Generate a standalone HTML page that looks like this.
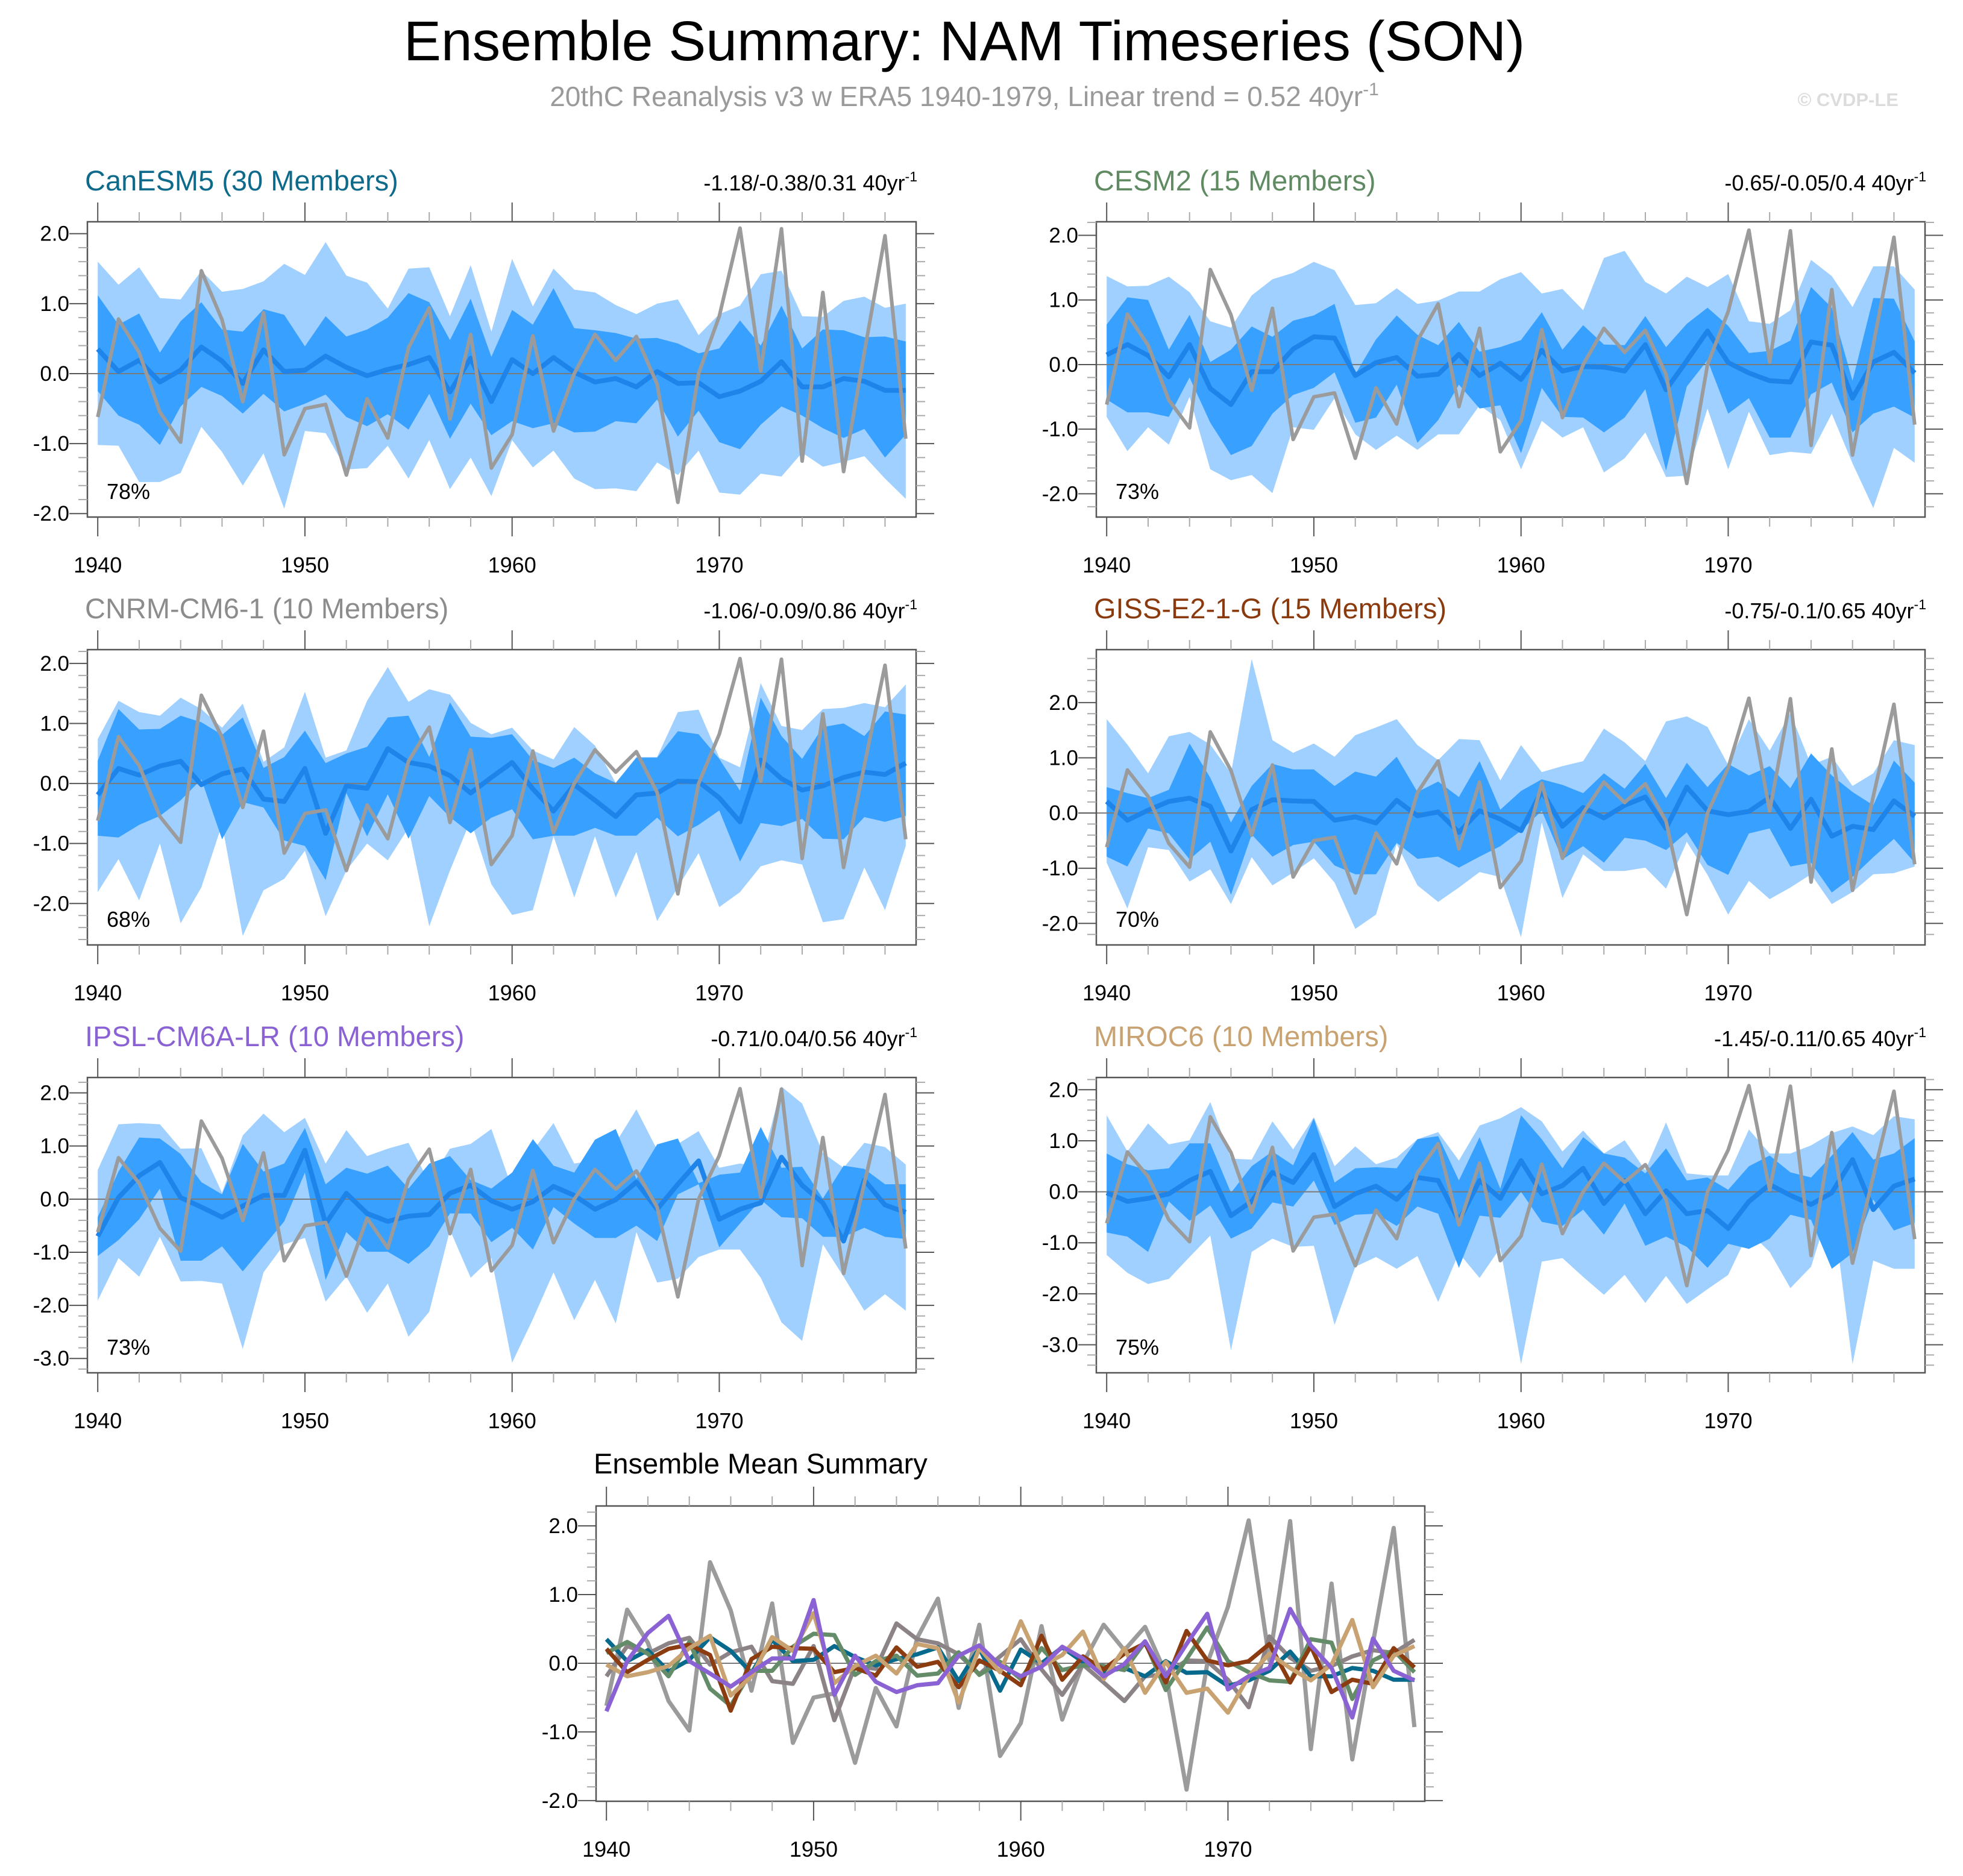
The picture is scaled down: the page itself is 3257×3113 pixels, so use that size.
<!DOCTYPE html>
<html><head><meta charset="utf-8">
<style>
html,body{margin:0;padding:0;background:#fff;}
svg{display:block;font-family:"Liberation Sans",Arial,sans-serif;}
</style></head>
<body>
<svg id="chart" width="3257" height="3113" viewBox="0 0 3257 3113" xmlns="http://www.w3.org/2000/svg">
<text x="1600" y="100" font-size="93" text-anchor="middle" fill="#000">Ensemble Summary: NAM Timeseries (SON)</text>
<text x="1600" y="176" font-size="46" text-anchor="middle" fill="#9a9a9a">20thC Reanalysis v3 w ERA5 1940-1979, Linear trend = 0.52 40yr<tspan dy="-18" font-size="30">-1</tspan></text>
<text x="3150" y="176" font-size="31" font-weight="bold" text-anchor="end" fill="#dcdcdc">© CVDP-LE</text>
</svg>
<script>
const years = [];
for (let y = 1940; y <= 1979; y++) years.push(y);
const obs = [-0.62,0.78,0.30,-0.55,-0.98,1.47,0.77,-0.40,0.87,-1.16,-0.50,-0.44,-1.45,-0.36,-0.92,0.37,0.94,-0.65,0.56,-1.35,-0.87,0.54,-0.82,0.00,0.56,0.19,0.53,-0.15,-1.84,0.00,0.82,2.08,0.04,2.07,-1.25,1.16,-1.40,0.30,1.97,-0.93];

const canMean = [0.35,0.03,0.19,-0.12,0.05,0.38,0.18,-0.14,0.34,0.03,0.05,0.25,0.09,-0.03,0.06,0.13,0.23,-0.26,0.22,-0.40,0.20,0.00,0.23,0.02,-0.12,-0.07,-0.19,0.03,-0.14,-0.13,-0.33,-0.25,-0.11,0.17,-0.19,-0.19,-0.07,-0.11,-0.24,-0.24];
const canDarkHi = [1.12,0.70,0.86,0.30,0.75,1.02,0.63,0.60,0.92,0.84,0.39,0.82,0.53,0.63,0.80,1.15,1.02,0.48,1.07,0.24,0.91,0.70,1.22,0.65,0.62,0.58,0.50,0.51,0.43,0.29,0.36,0.76,0.40,0.97,0.36,0.63,0.62,0.52,0.53,0.46];
const canDarkLo = [-0.25,-0.60,-0.73,-1.02,-0.47,-0.19,-0.32,-0.57,-0.29,-0.54,-0.43,-0.30,-0.62,-0.75,-0.58,-0.80,-0.29,-0.93,-0.43,-0.88,-0.68,-0.78,-0.71,-0.84,-0.83,-0.68,-0.71,-0.37,-0.90,-0.53,-0.98,-1.08,-0.73,-0.47,-0.60,-0.78,-0.92,-0.79,-1.20,-0.87];
const canLightHi = [1.60,1.27,1.52,1.08,1.06,1.47,1.17,1.21,1.32,1.57,1.41,1.88,1.40,1.30,0.93,1.50,1.52,0.82,1.55,0.60,1.64,0.96,1.50,1.20,1.16,0.98,0.85,1.00,1.06,0.55,0.85,0.97,1.42,1.47,0.82,0.81,1.04,1.10,0.94,1.00];
const canLightLo = [-1.02,-1.03,-1.55,-1.55,-1.42,-0.76,-1.12,-1.60,-1.14,-1.93,-0.82,-0.85,-1.37,-1.35,-1.03,-1.50,-0.95,-1.65,-1.20,-1.75,-0.95,-1.34,-1.10,-1.50,-1.65,-1.64,-1.68,-1.27,-1.45,-1.10,-1.70,-1.73,-1.43,-1.47,-1.13,-1.33,-1.26,-1.18,-1.50,-1.79];

const cesmMean = [0.15,0.31,0.14,-0.19,0.31,-0.37,-0.62,-0.11,-0.11,0.24,0.43,0.41,-0.17,0.03,0.11,-0.18,-0.15,0.16,-0.17,0.02,-0.23,0.22,-0.10,-0.03,-0.04,-0.10,0.31,-0.39,0.06,0.52,0.03,-0.13,-0.25,-0.27,0.35,0.30,-0.52,0.04,0.19,-0.13];
const cesmDarkHi = [0.62,1.04,1.00,0.23,0.77,0.04,0.23,0.59,0.43,0.68,0.76,0.94,-0.15,0.39,0.76,0.46,0.30,0.66,0.20,0.27,0.38,0.81,0.23,0.61,0.31,0.30,0.75,0.27,0.63,0.88,0.60,0.18,0.21,0.37,1.20,0.88,-0.25,1.03,1.02,0.36];
const cesmDarkLo = [-0.54,-0.74,-0.74,-0.81,-0.20,-0.90,-1.40,-1.26,-0.76,-0.47,-0.36,-0.12,-0.90,-0.82,-0.31,-1.21,-0.86,-0.31,-0.68,-0.63,-1.37,-0.36,-0.81,-0.82,-1.05,-0.82,-0.38,-1.64,-0.34,0.07,-0.76,-0.52,-1.13,-1.13,-0.46,-0.28,-1.05,-0.76,-0.65,-0.82];
const cesmLightHi = [1.37,1.21,1.22,1.36,1.12,0.67,0.57,1.07,1.32,1.42,1.59,1.46,0.92,0.95,1.18,0.94,0.99,1.13,1.13,1.32,1.43,1.10,1.17,0.84,1.65,1.76,1.28,1.10,1.36,1.20,1.40,0.67,0.63,0.84,1.62,1.37,0.89,1.52,1.52,1.16];
const cesmLightLo = [-0.81,-1.34,-0.97,-1.24,-0.50,-1.62,-1.79,-1.71,-1.99,-0.97,-1.01,-0.52,-1.08,-1.32,-1.10,-1.32,-1.08,-1.08,-0.63,-0.86,-1.62,-0.87,-1.13,-0.97,-1.67,-1.45,-1.05,-1.74,-1.72,-0.68,-1.62,-0.73,-1.40,-1.35,-1.38,-0.76,-1.53,-2.22,-1.29,-1.52];

const cnrmMean = [-0.19,0.25,0.14,0.29,0.37,-0.02,0.16,0.24,-0.26,-0.30,0.25,-0.83,-0.04,-0.08,0.58,0.35,0.29,0.13,-0.16,0.10,0.35,-0.09,-0.46,-0.02,-0.28,-0.55,-0.19,-0.16,0.04,0.03,-0.24,-0.64,0.39,0.08,-0.11,-0.04,0.10,0.19,0.15,0.34];
const cnrmDarkHi = [0.38,1.24,0.90,0.91,1.13,1.02,0.81,1.10,0.26,0.44,0.88,0.34,0.50,0.61,1.10,1.13,0.44,1.35,0.78,0.76,0.82,0.39,0.26,0.43,0.17,0.01,0.43,0.43,0.87,0.82,0.41,-0.12,1.43,0.79,0.41,0.94,1.00,0.79,1.20,1.15];
const cnrmDarkLo = [-0.87,-0.90,-0.69,-0.54,-0.28,0.07,-0.93,-0.31,-0.40,-0.95,-1.04,-1.61,-0.16,-0.88,-0.18,-0.92,-0.21,-0.56,-0.83,-0.57,-0.43,-0.93,-0.87,-0.87,-0.74,-0.87,-0.87,-0.57,-0.88,-0.69,-0.45,-1.30,-0.66,-0.71,-0.59,-0.92,-0.93,-0.56,-0.64,-0.54];
const cnrmLightHi = [0.74,1.38,1.19,1.13,1.43,1.24,0.93,1.33,0.36,0.60,1.53,0.43,0.55,1.38,1.94,1.36,1.57,1.48,1.01,0.82,0.93,0.55,0.40,0.94,0.63,0.01,0.44,0.44,1.19,1.23,0.43,0.27,1.67,0.96,0.89,1.24,1.26,1.34,1.27,1.65];
const cnrmLightLo = [-1.81,-1.26,-1.95,-1.00,-2.33,-1.73,-0.68,-2.54,-1.78,-1.59,-1.12,-2.21,-1.45,-1.00,-1.28,-0.74,-2.38,-1.45,-0.61,-1.68,-2.19,-2.11,-0.88,-1.90,-0.88,-1.90,-1.14,-2.29,-1.73,-1.16,-2.06,-1.81,-1.38,-1.28,-1.35,-2.31,-2.26,-1.40,-2.11,-1.04];

const gissMean = [0.21,-0.13,0.05,0.21,0.27,0.12,-0.69,0.06,0.24,0.22,0.21,-0.13,-0.07,-0.18,0.23,-0.05,0.02,-0.35,0.04,-0.11,-0.32,0.40,-0.24,0.10,-0.09,0.14,0.29,-0.28,0.47,0.04,-0.03,0.03,0.28,-0.28,0.25,-0.42,-0.24,-0.30,0.22,-0.06];
const gissDarkHi = [0.47,0.36,0.27,0.42,1.26,0.64,-0.17,0.49,0.89,0.79,0.79,0.49,0.75,0.66,1.02,0.38,0.57,0.29,0.94,0.06,0.40,0.61,0.51,0.36,0.72,0.44,0.89,0.27,0.91,0.47,0.89,0.68,0.85,0.45,1.08,0.68,0.38,0.14,0.95,0.55];
const gissDarkLo = [-0.79,-0.97,-0.28,-0.37,-0.84,-0.52,-1.48,-0.39,-0.79,-0.58,-0.52,-0.95,-1.11,-1.11,-0.54,-0.83,-0.79,-0.99,-0.79,-0.60,-0.32,0.04,-0.84,-0.60,-0.90,-0.45,-0.50,-0.67,-0.35,-0.94,-1.12,-0.37,-0.28,-0.97,-0.90,-1.44,-1.16,-0.80,-0.47,-0.90];
const gissLightHi = [1.70,1.24,0.72,1.39,1.47,1.24,0.72,2.79,1.32,1.09,1.26,1.02,1.41,1.55,1.70,1.23,0.96,1.34,1.32,0.59,1.23,0.74,0.85,0.94,1.53,1.28,0.94,1.66,1.75,1.56,0.87,1.70,1.13,1.81,0.87,1.02,0.49,0.72,1.32,1.23];
const gissLightLo = [-0.90,-1.73,-0.62,-0.67,-1.24,-1.02,-1.65,-0.80,-1.31,-1.08,-0.82,-1.26,-2.10,-1.84,-0.56,-1.31,-1.61,-1.35,-1.07,-1.16,-2.25,-0.17,-1.54,-0.75,-1.05,-1.05,-0.99,-1.37,-0.52,-1.12,-1.84,-1.23,-1.56,-1.35,-1.11,-1.65,-1.43,-1.11,-1.09,-0.97];

const ipslMean = [-0.70,0.03,0.44,0.69,0.03,-0.15,-0.34,-0.13,0.07,0.07,0.92,-0.46,0.11,-0.27,-0.42,-0.32,-0.29,0.11,0.26,-0.03,-0.19,-0.05,0.24,0.07,-0.19,-0.01,0.32,-0.19,0.28,0.72,-0.38,-0.19,-0.07,0.79,0.26,-0.07,-0.79,0.36,-0.11,-0.25];
const ipslDarkHi = [-0.34,0.52,1.16,1.14,0.85,0.32,0.09,1.04,0.52,0.67,1.34,0.28,0.59,0.48,0.63,0.20,0.67,0.81,0.36,0.20,0.50,1.13,0.63,0.50,1.12,1.32,0.38,1.03,1.14,0.30,0.46,0.50,1.36,0.59,0.61,0.01,0.63,0.57,0.28,0.28];
const ipslDarkLo = [-1.07,-0.77,-0.38,0.20,-1.16,-1.16,-0.89,-1.36,-0.89,-0.42,0.50,-1.52,-0.62,-0.99,-0.99,-1.22,-0.89,-0.27,-0.27,-0.81,-0.54,-0.95,-0.15,-0.46,-0.73,-0.73,-0.50,-0.79,0.09,0.28,-0.91,-0.46,-0.01,-0.34,-0.36,-0.71,-0.71,-0.54,-0.71,-0.75];
const ipslLightHi = [0.55,1.41,1.43,1.41,0.95,0.96,0.12,1.20,1.61,1.26,1.53,0.67,1.30,0.81,0.95,1.06,0.32,0.95,1.04,1.32,0.20,0.91,1.43,0.67,0.73,1.06,1.69,0.93,1.04,1.28,0.59,0.67,0.61,2.12,1.80,0.87,0.59,1.06,0.98,0.65];
const ipslLightLo = [-1.91,-1.11,-1.46,-0.71,-1.55,-1.54,-1.59,-2.82,-1.38,-0.85,-0.73,-1.93,-1.46,-2.14,-1.59,-2.59,-2.12,-0.58,-1.48,-1.11,-3.08,-2.26,-1.38,-2.28,-1.52,-2.34,-0.62,-1.57,-1.50,-1.09,-0.95,-0.95,-1.48,-2.32,-2.67,-0.85,-1.46,-2.10,-1.79,-2.10];

const mirocMean = [-0.02,-0.19,-0.13,-0.04,0.22,0.40,-0.47,-0.19,0.38,0.18,0.73,-0.29,-0.04,0.11,-0.15,0.28,0.22,-0.57,0.22,-0.13,0.61,-0.04,0.12,0.46,-0.23,0.22,-0.43,0.02,-0.43,-0.37,-0.72,-0.19,0.14,-0.07,-0.25,-0.02,0.63,-0.35,0.11,0.25];
const mirocDarkHi = [0.75,0.54,0.42,0.46,0.95,0.95,-0.02,0.50,0.79,0.52,1.44,0.18,0.46,0.48,0.46,1.03,1.09,0.22,1.07,0.06,1.50,1.03,0.46,1.07,0.75,0.67,0.36,0.85,0.22,0.28,0.04,0.50,0.71,0.38,0.28,0.71,1.17,0.63,0.75,1.05];
const mirocDarkLo = [-0.80,-0.88,-1.18,-0.19,-0.57,-0.27,-0.92,-0.72,-0.21,-0.29,0.22,-0.65,-0.45,-0.43,-0.67,-0.29,-0.43,-1.49,-0.47,-0.51,0.00,-0.59,-0.67,-0.35,-0.84,-0.23,-1.06,-0.88,-1.08,-1.49,-1.02,-1.12,-0.92,-0.45,-0.55,-1.51,-1.20,-0.15,-0.76,-0.61];
const mirocLightHi = [1.50,0.79,1.34,0.93,1.01,1.76,0.65,0.63,1.38,0.83,1.46,0.50,0.89,0.54,0.67,1.03,1.17,0.61,1.30,1.44,1.66,1.38,0.79,1.20,0.75,1.01,0.42,1.36,0.36,0.32,0.32,1.22,0.75,0.75,0.91,1.15,1.28,1.11,1.48,1.42];
const mirocLightLo = [-1.24,-1.59,-1.81,-1.71,-1.28,-0.86,-3.11,-1.18,-0.92,-1.08,-1.06,-2.61,-1.47,-1.28,-1.51,-1.26,-2.16,-1.20,-1.69,-1.10,-3.38,-1.37,-1.30,-1.67,-2.02,-1.63,-2.18,-1.65,-2.20,-1.91,-1.63,-0.78,-1.18,-1.89,-1.47,-0.17,-3.38,-1.35,-1.51,-1.51];

const modelNames = ["CanESM5 (30 Members)","CESM2 (15 Members)","CNRM-CM6-1 (10 Members)","GISS-E2-1-G (15 Members)","IPSL-CM6A-LR (10 Members)","MIROC6 (10 Members)"];
const trendLabels = ["-1.18/-0.38/0.31 40yr","-0.65/-0.05/0.4 40yr","-1.06/-0.09/0.86 40yr","-0.75/-0.1/0.65 40yr","-0.71/0.04/0.56 40yr","-1.45/-0.11/0.65 40yr"];
const pctLabels = ["78%","73%","68%","70%","73%","75%"];
const yTickVals = [[-2,-1,0,1,2],[-2,-1,0,1,2],[-2,-1,0,1,2],[-2,-1,0,1,2],[-3,-2,-1,0,1,2],[-3,-2,-1,0,1,2]];

const NS = "http://www.w3.org/2000/svg";
const svg = document.getElementById("chart");
function mk(tag, attrs, parent) {
  const e = document.createElementNS(NS, tag);
  for (const k in attrs) e.setAttribute(k, attrs[k]);
  (parent || svg).appendChild(e);
  return e;
}

const W = 1375, H = 490;
const colors = ["#0e6a8a","#5f8a62","#8c8c8c","#8b3a0e","#8a62d4","#c9a271"];
const lineCols = ["#07698c","#658c68","#8c8387","#8b3c10","#8a62d4","#c9a271"];
const panels = [
  {x:145,y:368,ymin:-2.05,ymax:2.17},
  {x:1819,y:368,ymin:-2.36,ymax:2.21},
  {x:145,y:1078,ymin:-2.69,ymax:2.23},
  {x:1819,y:1078,ymin:-2.39,ymax:2.96},
  {x:145,y:1788,ymin:-3.27,ymax:2.29},
  {x:1819,y:1788,ymin:-3.55,ymax:2.24}
];
const means = [canMean,cesmMean,cnrmMean,gissMean,ipslMean,mirocMean];
const dHi = [canDarkHi,cesmDarkHi,cnrmDarkHi,gissDarkHi,ipslDarkHi,mirocDarkHi];
const dLo = [canDarkLo,cesmDarkLo,cnrmDarkLo,gissDarkLo,ipslDarkLo,mirocDarkLo];
const lHi = [canLightHi,cesmLightHi,cnrmLightHi,gissLightHi,ipslLightHi,mirocLightHi];
const lLo = [canLightLo,cesmLightLo,cnrmLightLo,gissLightLo,ipslLightLo,mirocLightLo];

function makeAxes(p) {
  const xs = yr => p.x + (yr - 1939.5) / 40 * W;
  const ys = v => p.y + (p.ymax - v) / (p.ymax - p.ymin) * H;
  return {xs, ys};
}

function drawFrame(p, ax, yticks, g) {
  const z = mk("line",{x1:p.x,x2:p.x+W,y1:ax.ys(0),y2:ax.ys(0),stroke:"#7a7a7a","stroke-width":2},g);
  
  
  const b = mk("rect",{x:p.x,y:p.y,width:W,height:H,fill:"none",stroke:"#555","stroke-width":2.5},g);
  
  
  for (let yr = 1940; yr <= 1979; yr += 2) {
    const x = ax.xs(yr);
    const major = yr % 10 === 0;
    const len = major ? 32 : 16;
    mk("line",{x1:x,x2:x,y1:p.y,y2:p.y-len,stroke:major?"#555":"#aaa","stroke-width":2},g);
    mk("line",{x1:x,x2:x,y1:p.y+H,y2:p.y+H+len,stroke:major?"#555":"#aaa","stroke-width":2},g);
    if (major) {
      const t = mk("text",{x:x,y:p.y+H+92,"font-size":36,"text-anchor":"middle",fill:"#000"},g);
      t.textContent = yr;
      
      
    }
  }
  const lo = Math.ceil(p.ymin*5-1e-6), hi = Math.floor(p.ymax*5+1e-6);
  for (let k = lo; k <= hi; k++) {
    const v = k/5, y = ax.ys(v);
    const major = k % 5 === 0;
    const len = major ? 30 : 15;
    mk("line",{x1:p.x,x2:p.x-len,y1:y,y2:y,stroke:major?"#555":"#aaa","stroke-width":2},g);
    mk("line",{x1:p.x+W,x2:p.x+W+len,y1:y,y2:y,stroke:major?"#555":"#aaa","stroke-width":2},g);
  }
  yticks.forEach(v => {
    const t = mk("text",{x:p.x-30,y:ax.ys(v)+12,"font-size":35,"text-anchor":"end",fill:"#000"},g);
    t.textContent = v.toFixed(1);
    
    
  });
}

function linePath(ax, vals) {
  return vals.map((v,i)=>(i?"L":"M")+ax.xs(years[i]).toFixed(1)+","+ax.ys(v).toFixed(1)).join(" ");
}
function bandPath(ax, hiVals, loVals) {
  let d = hiVals.map((v,i)=>(i?"L":"M")+ax.xs(years[i]).toFixed(1)+","+ax.ys(v).toFixed(1)).join(" ");
  for (let i = loVals.length-1; i >= 0; i--) d += " L"+ax.xs(years[i]).toFixed(1)+","+ax.ys(loVals[i]).toFixed(1);
  return d + " Z";
}

panels.forEach((p, idx) => {
  const g = mk("g",{});
  
  
  const ax = makeAxes(p);
  const clip = mk("clipPath",{id:"clip"+idx},g);
  mk("rect",{x:p.x,y:p.y,width:W,height:H},clip);
  const inner = mk("g",{"clip-path":"url(#clip"+idx+")"},g);
  const lb = mk("path",{d:bandPath(ax,lHi[idx],lLo[idx]),fill:"#9fd0ff"},inner);
  
  
  const db = mk("path",{d:bandPath(ax,dHi[idx],dLo[idx]),fill:"#38a0ff"},inner);
  
  
  drawFrame(p, ax, yTickVals[idx], g);
  const ml = mk("path",{d:linePath(ax,means[idx]),fill:"none",stroke:"#1e84ea","stroke-width":8,"stroke-linejoin":"round"},g);
  
  
  const ol = mk("path",{d:linePath(ax,obs),fill:"none",stroke:"#9b9b9b","stroke-width":6,"stroke-linejoin":"round"},g);
  
  
  const title = mk("text",{x:p.x-4,y:p.y-52,"font-size":47,fill:colors[idx]},g);
  title.textContent = modelNames[idx];
  
  
  const tr = mk("text",{x:p.x+W+2,y:p.y-52,"font-size":36,"text-anchor":"end",fill:"#000"},g);
  tr.textContent = trendLabels[idx];
  const sup = mk("tspan",{dy:-15,"font-size":23},tr);
  sup.textContent = "-1";
  
  
  const pc = mk("text",{x:p.x+32,y:p.y+H-30,"font-size":36,fill:"#000"},g);
  pc.textContent = pctLabels[idx];
  
  
});

(function(){
  const p = {x:989,y:2499,ymin:-2.01,ymax:2.29};
  const g = mk("g",{});
  
  
  const ax = makeAxes(p);
  drawFrame(p, ax, [-2,-1,0,1,2], g);
  const ol = mk("path",{d:linePath(ax,obs),fill:"none",stroke:"#9b9b9b","stroke-width":7,"stroke-linejoin":"round"},g);
  
  
  [2,0,1,3,5,4].forEach(i => {
    const l = mk("path",{d:linePath(ax,means[i]),fill:"none",stroke:lineCols[i],"stroke-width":7,"stroke-linejoin":"round"},g);
    
    
  });
  const t = mk("text",{x:985,y:2445,"font-size":47,fill:"#000"},g);
  t.textContent = "Ensemble Mean Summary";
  
  
})();
</script>
</body></html>
